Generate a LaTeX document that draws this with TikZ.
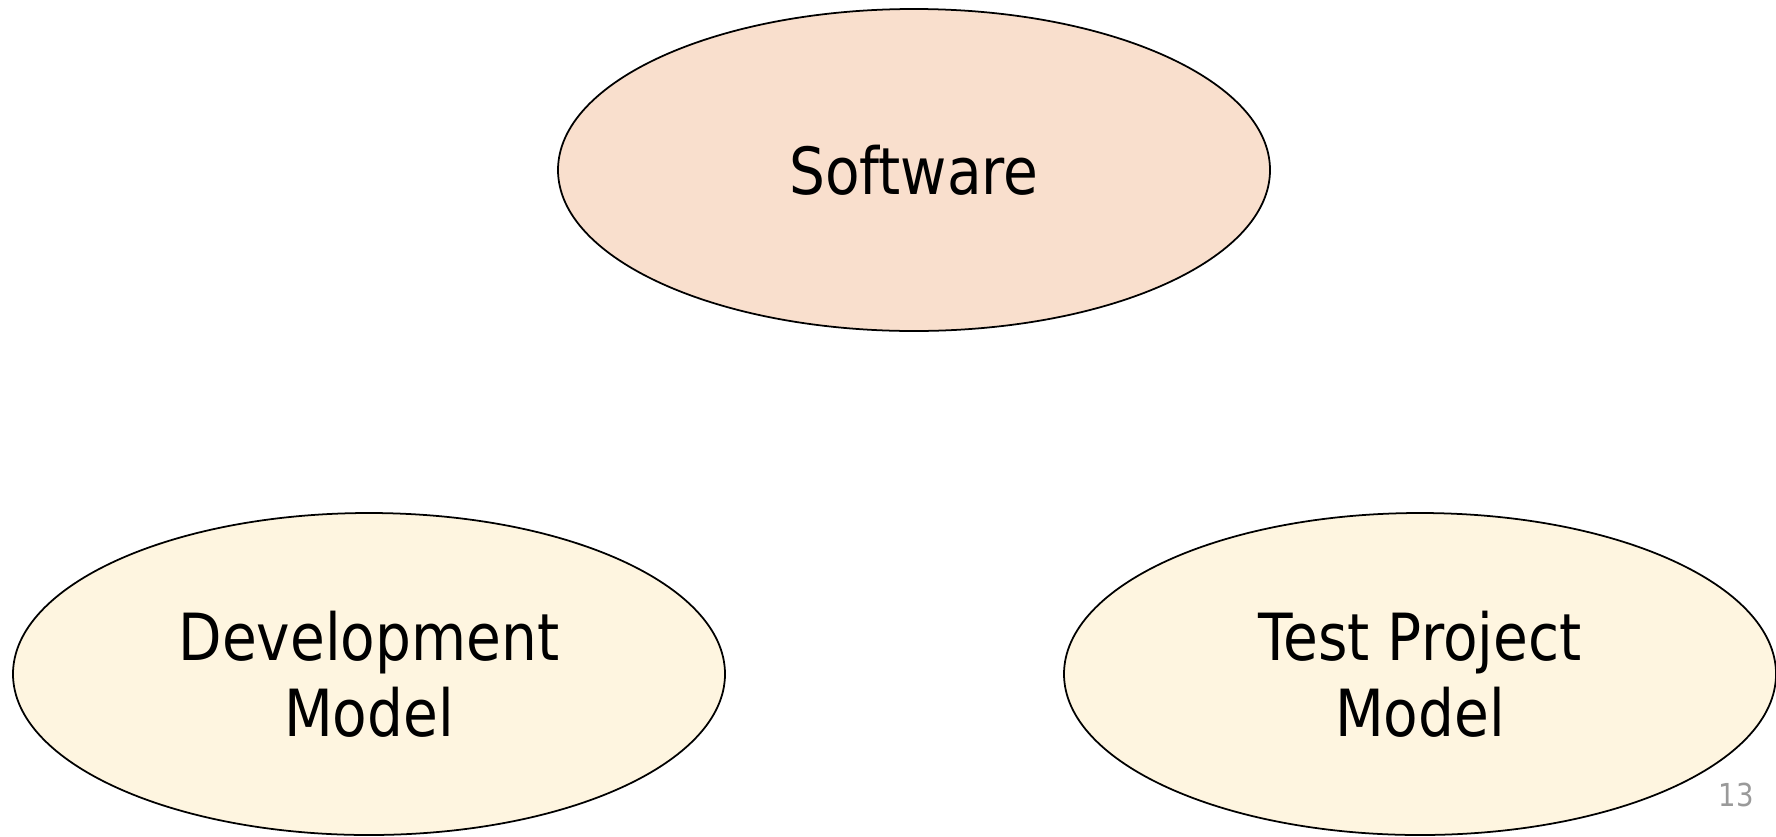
\documentclass[tikz,border=0pt]{standalone}
\usepackage{fontspec}
\setmainfont{DejaVu Sans}[FakeStretch=0.87]
\usetikzlibrary{shapes.geometric}
\definecolor{swpeach}{HTML}{F9DFCD}
\definecolor{mdcream}{HTML}{FEF5E0}
\definecolor{pggray}{HTML}{9A9A9A}

\begin{document}
\begin{tikzpicture}[
  every node/.style={font=\fontsize{18.5}{21.5}\selectfont},
  modelellipse/.style={ellipse, draw=black, line width=0.5pt, fill=#1, minimum width=7.12cm, minimum height=3.22cm, inner sep=0pt, align=center},
  pagelabel/.style={font=\fontsize{9}{10}\selectfont, text=pggray},
]
\useasboundingbox (0,0) rectangle (17.76,8.36);

% Top ellipse
\node[modelellipse=swpeach] (software) at (9.14, 6.66) {Software};

% Two models at the bottom
\node[modelellipse=mdcream] (devmodel) at (3.69, 1.62) {Development\\Model};
\node[modelellipse=mdcream] (testmodel) at (14.20, 1.62) {Test Project\\Model};

% Slide number
\node[pagelabel] (pagenum) at (17.36, 0.41) {13};

\end{tikzpicture}
\end{document}
